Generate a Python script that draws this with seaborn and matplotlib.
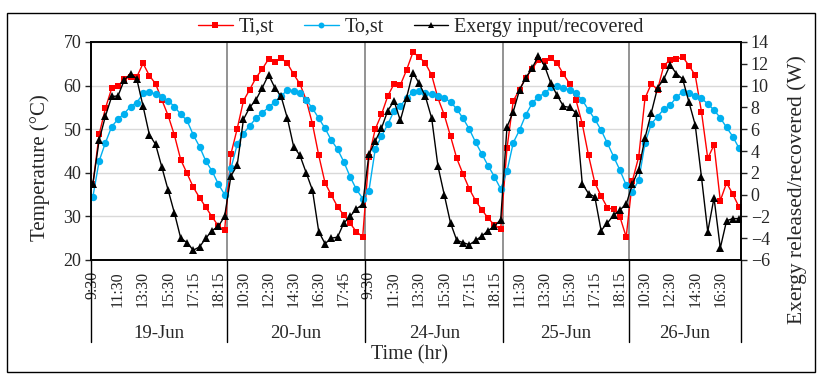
import numpy as np
import pandas as pd
import matplotlib.pyplot as plt
import matplotlib.transforms as mtransforms
from matplotlib.patches import Rectangle
import seaborn as sns

days = ['19-Jun', '20-Jun', '24-Jun', '25-Jun', '26-Jun']

# Ti,st (°C)
ti_19 = [37.4, 48.8, 54.8, 59.4, 59.9, 61.5, 62.0, 62.0, 65.1, 62.3, 60.4, 56.7, 53.1, 48.6, 43.0, 39.9, 36.7, 34.3, 32.1, 29.9, 27.8, 26.8]
ti_20 = [44.3, 50.1, 56.5, 59.1, 61.8, 63.8, 66.1, 65.5, 66.3, 65.1, 62.6, 60.4, 56.7, 51.2, 44.0, 37.7, 34.9, 32.2, 30.3, 28.4, 26.5, 25.3]
ti_24 = [43.7, 50.0, 53.4, 57.6, 60.4, 60.1, 63.6, 67.6, 66.6, 65.1, 62.4, 57.1, 53.3, 48.4, 43.3, 39.7, 36.3, 33.6, 31.5, 29.6, 28.0, 27.1]
ti_25 = [45.6, 56.5, 59.1, 61.8, 63.8, 65.9, 65.6, 66.3, 65.1, 62.6, 60.4, 56.7, 51.2, 44.0, 37.7, 34.7, 32.0, 31.6, 29.9, 25.3]
ti_26 = [38.2, 43.7, 57.1, 60.4, 59.1, 64.6, 65.9, 66.0, 66.6, 64.6, 62.4, 54.0, 43.3, 46.4, 33.6, 37.7, 35.1, 32.1]

# To,st (°C)
to_19 = [34.5, 42.7, 46.9, 50.6, 52.3, 53.6, 55.2, 56.1, 58.2, 58.6, 58.0, 57.5, 56.5, 55.2, 53.4, 52.0, 48.7, 46.0, 42.7, 40.4, 37.4, 35.0]
to_20 = [41.0, 46.5, 49.0, 50.8, 52.5, 53.8, 55.0, 56.3, 57.6, 59.0, 58.8, 58.2, 56.7, 54.8, 52.5, 50.2, 47.5, 45.4, 42.5, 39.1, 36.2, 34.1]
to_24 = [35.9, 45.4, 48.4, 51.1, 54.2, 55.3, 57.1, 58.5, 58.8, 58.2, 58.0, 57.7, 57.1, 56.3, 54.6, 52.5, 50.0, 47.0, 44.3, 41.6, 39.1, 36.3]
to_25 = [40.3, 46.9, 49.8, 53.3, 55.9, 57.5, 58.2, 59.6, 59.8, 59.4, 59.0, 58.2, 56.7, 54.4, 52.3, 49.8, 46.8, 43.7, 40.6, 37.2]
to_26 = [35.7, 38.3, 46.8, 51.2, 52.9, 54.6, 55.5, 57.3, 58.6, 58.2, 57.6, 57.1, 55.8, 54.4, 52.6, 50.4, 48.3, 45.6]

# Exergy input/recovered (W)
ex_19 = [1.0, 5.0, 7.2, 9.0, 9.05, 10.5, 11.1, 10.6, 8.1, 5.5, 4.6, 2.5, 0.4, -1.7, -4.0, -4.4, -5.1, -4.8, -4.0, -3.3, -2.9, -2.0]
ex_20 = [1.7, 2.7, 6.9, 8.0, 8.7, 9.8, 11.0, 9.8, 9.0, 7.0, 4.4, 3.6, 2.0, 0.4, -3.4, -4.5, -4.0, -3.9, -2.6, -2.0, -1.3, -0.9]
ex_24 = [3.7, 4.9, 6.1, 7.7, 8.6, 6.8, 8.9, 11.2, 10.2, 9.0, 7.0, 2.6, 0.0, -2.6, -4.2, -4.4, -4.6, -4.2, -3.8, -3.3, -2.9, -2.3]
ex_25 = [6.2, 7.6, 9.6, 10.7, 11.6, 12.7, 11.8, 10.2, 9.1, 8.1, 8.0, 7.5, 1.0, 0.1, -0.2, -3.3, -2.6, -1.9, -1.4, -0.9]
ex_26 = [1.0, 2.3, 5.2, 7.5, 9.8, 10.6, 11.9, 11.1, 10.6, 8.5, 6.4, 1.6, -3.4, -0.3, -4.9, -2.4, -2.2, -2.2]

# time labels shown on the axis (every 4th reading)
times_19 = ['9:30', '11:30', '13:30', '15:30', '17:15', '18:15']
times_20 = ['10:30', '12:30', '14:30', '16:30', '17:45']
times_24 = ['9:30', '11:30', '13:30', '15:30', '17:15', '18:15']
times_25 = ['11:30', '13:30', '15:30', '17:15', '18:15']
times_26 = ['10:30', '12:30', '14:30', '16:30']

ti_all = [ti_19, ti_20, ti_24, ti_25, ti_26]
to_all = [to_19, to_20, to_24, to_25, to_26]
ex_all = [ex_19, ex_20, ex_24, ex_25, ex_26]
tick_labels = times_19 + times_20 + times_24 + times_25 + times_26

frames = []
for d, ti, to, ex in zip(days, ti_all, to_all, ex_all):
    frames.append(pd.DataFrame({'day': d, 'Ti': ti, 'To': to, 'Ex': ex}))
df = pd.concat(frames, ignore_index=True)
df['idx'] = np.arange(len(df))

sns.set_style('white')
plt.rcParams['font.family'] = ['Liberation Serif', 'DejaVu Serif']

fig = plt.figure(figsize=(8.38, 3.82), dpi=100)
ax = fig.add_axes([91 / 838, 1 - 260 / 382, 650 / 838, 218 / 382])
ax2 = ax.twinx()

sns.lineplot(data=df, x='idx', y='Ti', ax=ax, color='#FF0000', marker='s', markersize=4.8,
             markeredgewidth=0, linewidth=1, label='Ti,st', legend=False)
sns.lineplot(data=df, x='idx', y='To', ax=ax, color='#00B0F0', marker='o', markersize=5.3,
             markeredgewidth=0, linewidth=1, label='To,st', legend=False)
sns.lineplot(data=df, x='idx', y='Ex', ax=ax2, color='black', marker='^', markersize=5.3,
             markeredgewidth=0, linewidth=1, label='Exergy input/recovered', legend=False)

n = len(df)
ax.set_xlim(-0.3, n - 0.7)
ax.set_ylim(20, 70)
ax.set_yticks(range(20, 71, 10))
ax.yaxis.grid(True, color='#D9D9D9', linewidth=1)
ax.set_axisbelow(True)
ax2.set_ylim(-6, 14)
ax2.set_yticks(range(-6, 15, 2))

for a in (ax, ax2):
    for s in a.spines.values():
        s.set_linewidth(1.2)
        s.set_color('black')
ax.tick_params(axis='y', direction='out', length=4, width=1, labelsize=13, pad=3)
ax2.tick_params(axis='y', direction='out', length=4, width=1, labelsize=13, pad=3)

# x ticks: every 4th reading labelled
tick_pos = df['idx'].values[::4]
ax.set_xticks(tick_pos)
ax.set_xticklabels(tick_labels, rotation=90, fontsize=11.5)
ax.tick_params(axis='x', length=0, pad=8)
ax.set_xticks(np.arange(-0.3, n - 0.7, 1 / 3), minor=True)
ax.tick_params(axis='x', which='minor', direction='out', length=3, width=0.6, color='black')
ax.set_xlabel('')
ax.set_ylabel('')
ax2.set_ylabel('')

# day separators and day labels
trans = mtransforms.blended_transform_factory(ax.transData, ax.transAxes)
starts = df.groupby('day', sort=False)['idx'].min().values
bounds = [ax.get_xlim()[0]] + [s - 0.6 for s in starts[1:]] + [ax.get_xlim()[1]]
for b in bounds[1:-1]:
    ax.plot([b, b], [0, 1], transform=trans, color='#808080', linewidth=1.2, zorder=1)
for b in bounds:
    ax.plot([b, b], [0, -0.376], transform=trans, color='black', linewidth=1, clip_on=False)
for d, lo, hi in zip(days, bounds[:-1], bounds[1:]):
    ax.text((lo + hi) / 2, -0.335, d, transform=trans, ha='center', va='center', fontsize=13.5)

fig.text(409 / 838, 1 - 355 / 382, 'Time (hr)', ha='center', va='center', fontsize=14.5)
fig.text(40 / 838, 1 - 168 / 382, 'Temperature (°C)', ha='center', va='center', rotation=90, fontsize=15)
fig.text(797 / 838, 1 - 190 / 382, 'Exergy released/recovered (W)', ha='center', va='center',
         rotation=90, fontsize=15.5)

h1, l1 = ax.get_legend_handles_labels()
h2, l2 = ax2.get_legend_handles_labels()
fig.legend(h1 + h2, l1 + l2, loc='center', bbox_to_anchor=(421 / 838, 1 - 27 / 382), ncol=3,
           frameon=False, fontsize=14.5, handlelength=1.7, columnspacing=1.5, handletextpad=0.3,
           markerscale=0.8)

fig.patches.append(Rectangle((7 / 838, 1 - 372 / 382), 808 / 838, 359 / 382, transform=fig.transFigure,
                             fill=False, edgecolor='black', linewidth=1))

fig.savefig('out.png', dpi=100)
